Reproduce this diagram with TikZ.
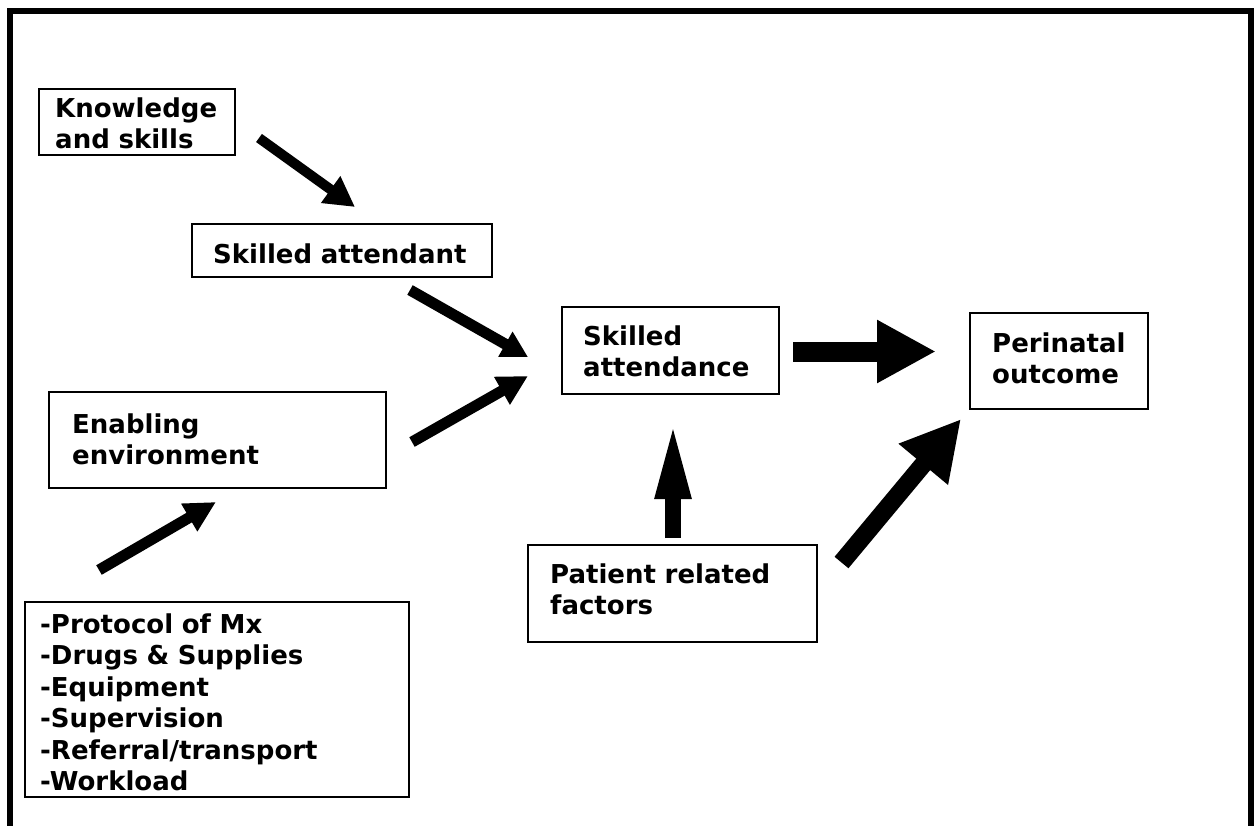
\documentclass[tikz,border=0pt]{standalone}
\usepackage{fontspec}
\setmainfont{DejaVu Sans}
\usetikzlibrary{arrows.meta}

\tikzset{
  frameline/.style={line width=6pt, line cap=rect},
  box/.style={draw, line width=1.8pt, rectangle, inner sep=0pt},
  label/.style={anchor=base west, inner sep=0pt, align=left, text width=#1,
    font=\fontsize{26}{31}\selectfont\bfseries},
  listlabel/.style={anchor=base west, inner sep=0pt, align=left, text width=#1,
    font=\fontsize{26}{31.5}\selectfont\bfseries},
  % block arrow: shaft width, head width, head length
  blockarrow/.style n args={3}{line width=#1,
    -{Triangle[width=#2, length=#3]}},
}

\begin{document}
\begin{tikzpicture}[x=1pt, y=-1pt]
  \useasboundingbox (0,0) rectangle (1256,825);

  % outer frame, open at the bottom
  \draw[frameline] (10,828) -- (10,11) -- (1251,11) -- (1251,828);

  % boxes
  \node[box, minimum width=196pt, minimum height=66pt] (know) at (137,122) {};
  \node[box, minimum width=300pt, minimum height=53pt] (sattendant) at (342,250.5) {};
  \node[box, minimum width=217pt, minimum height=87pt] (sattendance) at (670.5,350.5) {};
  \node[box, minimum width=178pt, minimum height=96pt] (perinatal) at (1059,361) {};
  \node[box, minimum width=289pt, minimum height=97pt] (patient) at (672.5,593.5) {};
  \node[box, minimum width=337pt, minimum height=96pt] (enabling) at (217.5,440) {};
  \node[box, minimum width=384pt, minimum height=195pt] (list) at (217,699.5) {};

  % box texts
  \node[label=170pt] (knowT) at (55,117) {Knowledge\\and skills};
  \node[label=270pt] (sattendantT) at (213,263) {Skilled attendant};
  \node[label=300pt] (enablingT) at (72,433) {Enabling\\environment};
  \node[listlabel=360pt] (listT) at (40,633) {-Protocol of Mx\\-Drugs \& Supplies\\-Equipment\\-Supervision\\-Referral/transport\\-Workload};
  \node[label=190pt] (sattendanceT) at (583,345) {Skilled\\attendance};
  \node[label=150pt] (perinatalT) at (992,352) {Perinatal\\outcome};
  \node[label=260pt] (patientT) at (550,583) {Patient related\\factors};

  % arrow end points
  \coordinate (a1s) at (259,138);   \coordinate (a1e) at (355,207);
  \coordinate (a2s) at (410,290);   \coordinate (a2e) at (528,357);
  \coordinate (a3s) at (412,442);   \coordinate (a3e) at (528,376);
  \coordinate (a4s) at (99,570);    \coordinate (a4e) at (216,502);
  \coordinate (a5s) at (793,351.5); \coordinate (a5e) at (936,351.5);
  \coordinate (a6s) at (673,538);   \coordinate (a6e) at (673,419);
  \coordinate (a7s) at (841.5,562.5); \coordinate (a7e) at (961,419);

  % arrows
  \draw[blockarrow={10pt}{31pt}{30pt}] (a1s) -- (a1e);
  \draw[blockarrow={11pt}{27pt}{26pt}] (a2s) -- (a2e);
  \draw[blockarrow={11pt}{30pt}{30pt}] (a3s) -- (a3e);
  \draw[blockarrow={11pt}{30pt}{31pt}] (a4s) -- (a4e);
  \draw[blockarrow={20pt}{59pt}{59pt}] (a5s) -- (a5e);
  \draw[blockarrow={16pt}{32pt}{80pt}] (a6s) -- (a6e);
  \draw[blockarrow={18pt}{60pt}{59pt}] (a7s) -- (a7e);
\end{tikzpicture}
\end{document}
